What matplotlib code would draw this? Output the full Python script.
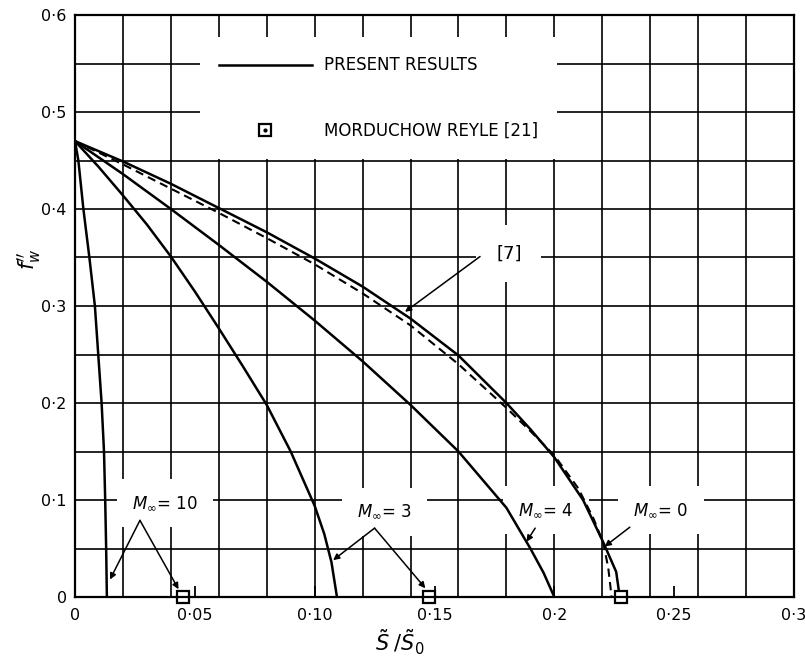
import numpy as np
import matplotlib.pyplot as plt
from matplotlib.lines import Line2D

plt.rcParams['font.family'] = 'DejaVu Sans'
plt.rcParams['mathtext.fontset'] = 'dejavusans'

# present results, wall shear f''_w against S/S0
s_m0 = [0, 0.02, 0.04, 0.06, 0.08, 0.10, 0.12, 0.14, 0.16, 0.18, 0.19, 0.20, 0.212, 0.2203, 0.2258, 0.2273]
f_m0 = [0.470, 0.449, 0.426, 0.401, 0.376, 0.349, 0.320, 0.287, 0.249, 0.200, 0.173, 0.144, 0.100, 0.057, 0.026, 0.0]

s_m4 = [0, 0.02, 0.04, 0.06, 0.08, 0.10, 0.12, 0.14, 0.16, 0.17, 0.18, 0.19, 0.1955, 0.2]
f_m4 = [0.470, 0.436, 0.400, 0.363, 0.325, 0.285, 0.243, 0.198, 0.150, 0.121, 0.092, 0.050, 0.025, 0.0]

s_m3 = [0, 0.01, 0.02, 0.03, 0.04, 0.05, 0.06, 0.07, 0.08, 0.09, 0.10, 0.104, 0.107, 0.1093]
f_m3 = [0.470, 0.443, 0.414, 0.384, 0.351, 0.315, 0.277, 0.238, 0.198, 0.150, 0.094, 0.065, 0.036, 0.0]

s_m10 = [0, 0.0014, 0.0035, 0.006, 0.0083, 0.0097, 0.0111, 0.0121, 0.0126, 0.0130, 0.0133]
f_m10 = [0.470, 0.45, 0.40, 0.35, 0.30, 0.25, 0.20, 0.15, 0.10, 0.05, 0.0]

# ref [7], M = 0
s_ref7 = [0, 0.02, 0.04, 0.06, 0.08, 0.10, 0.12, 0.14, 0.16, 0.18, 0.19, 0.20, 0.21, 0.2165, 0.2205, 0.2225, 0.2239]
f_ref7 = [0.470, 0.446, 0.421, 0.396, 0.370, 0.343, 0.313, 0.280, 0.240, 0.195, 0.171, 0.146, 0.112, 0.080, 0.055, 0.030, 0.0]

# Morduchow & Reyle separation points
s_mr = [0.0449, 0.1477, 0.2278]
f_mr = [0.0, 0.0, 0.0]

xticks = [0, 0.05, 0.10, 0.15, 0.20, 0.25, 0.30]
xticklabels = ['0', '0·05', '0·10', '0·15', '0·2', '0·25', '0·3']
yticks = [0, 0.1, 0.2, 0.3, 0.4, 0.5, 0.6]
yticklabels = ['0', '0·1', '0·2', '0·3', '0·4', '0·5', '0·6']

fig = plt.figure(figsize=(8.05, 6.65), dpi=100)
ax = fig.add_axes([75 / 805, 1 - 597 / 665, 719 / 805, 582 / 665])

ax.set_xlim(0, 0.3)
ax.set_ylim(0, 0.6)

# grid: 0.02 in x, 0.05 in y
for gx in np.arange(0.02, 0.3, 0.02):
    ax.axvline(gx, color='black', lw=1.2, zorder=1)
for gy in np.arange(0.05, 0.6, 0.05):
    ax.axhline(gy, color='black', lw=1.2, zorder=1)

lw = 1.8
ax.plot(s_m0, f_m0, color='black', lw=lw, zorder=4)
ax.plot(s_m4, f_m4, color='black', lw=lw, zorder=4)
ax.plot(s_m3, f_m3, color='black', lw=lw, zorder=4)
ax.plot(s_m10, f_m10, color='black', lw=lw, zorder=4)
ax.plot(s_ref7, f_ref7, color='black', lw=1.5, ls=(0, (4, 2.5)), zorder=4)
ax.plot(s_mr, f_mr, ls='none', marker='s', ms=8, mfc='white', mec='black',
        mew=1.6, clip_on=False, zorder=6)

# legend sits on a blank patch over the grid
h_line = Line2D([], [], color='black', lw=lw)
h_box = Line2D([], [], ls='none', marker='s', ms=9, mfc='white', mec='black', mew=1.6)
h_dot = Line2D([], [], ls='none', marker='o', ms=2, color='black')
leg = ax.legend([h_line, (h_box, h_dot)], ['PRESENT RESULTS', 'MORDUCHOW REYLE [21]'],
                loc='upper left', bbox_to_anchor=(0.052, 0.577),
                bbox_transform=ax.transData, borderaxespad=0,
                fontsize=12, handlelength=5.6, handletextpad=0.7,
                labelspacing=2.85, borderpad=1.15, frameon=True, fancybox=False)
leg.get_frame().set_facecolor('white')
leg.get_frame().set_edgecolor('none')
leg.get_frame().set_alpha(1)
leg.set_zorder(5)

label_box = dict(boxstyle='square,pad=0.9', fc='white', ec='none')
arrow = dict(arrowstyle='-|>', color='black', lw=1.1, shrinkA=0, shrinkB=0,
             mutation_scale=9)

# M = 10
ax.text(0.0375, 0.097, r'$M_{\infty}$= 10', fontsize=12, ha='center', va='center',
        bbox=label_box, zorder=3)
ax.annotate('', xy=(0.0146, 0.018), xytext=(0.0271, 0.079), arrowprops=arrow, zorder=5)
ax.annotate('', xy=(0.0432, 0.008), xytext=(0.0271, 0.079), arrowprops=arrow, zorder=5)

# M = 3
ax.text(0.129, 0.088, r'$M_{\infty}$= 3', fontsize=12, ha='center', va='center',
        bbox=label_box, zorder=3)
ax.annotate('', xy=(0.1077, 0.038), xytext=(0.125, 0.071), arrowprops=arrow, zorder=5)
ax.annotate('', xy=(0.1462, 0.009), xytext=(0.125, 0.071), arrowprops=arrow, zorder=5)

# M = 4
ax.text(0.1965, 0.090, r'$M_{\infty}$= 4', fontsize=12, ha='center', va='center',
        bbox=label_box, zorder=3)
ax.annotate('', xy=(0.1884, 0.057), xytext=(0.192, 0.071), arrowprops=arrow, zorder=5)

# M = 0
ax.text(0.2445, 0.090, r'$M_{\infty}$= 0', fontsize=12, ha='center', va='center',
        bbox=label_box, zorder=3)
ax.annotate('', xy=(0.221, 0.052), xytext=(0.2315, 0.072), arrowprops=arrow, zorder=5)

# ref [7]
ax.text(0.181, 0.354, '[7]', fontsize=13, ha='center', va='center',
        bbox=dict(boxstyle='square,pad=1.1', fc='white', ec='none'), zorder=3)
ax.annotate('', xy=(0.1377, 0.294), xytext=(0.169, 0.351), arrowprops=arrow, zorder=5)

ax.set_xticks(xticks)
ax.set_xticklabels(xticklabels)
ax.set_yticks(yticks)
ax.set_yticklabels(yticklabels)
ax.tick_params(axis='x', direction='in', length=8, width=1.3, pad=8, labelsize=11.5)
ax.tick_params(axis='y', direction='in', length=0, pad=6, labelsize=11.5)

for sp in ax.spines.values():
    sp.set_linewidth(1.6)
    sp.set_zorder(6)

ax.set_xlabel(r'$\tilde{S}\;/\tilde{S}_0$', fontsize=15)
ax.xaxis.set_label_coords(0.452, -0.052)
ax.set_ylabel(r"$f_w''$", fontsize=15)
ax.yaxis.set_label_coords(-0.044, 0.58)

plt.savefig('out.png', dpi=100)
